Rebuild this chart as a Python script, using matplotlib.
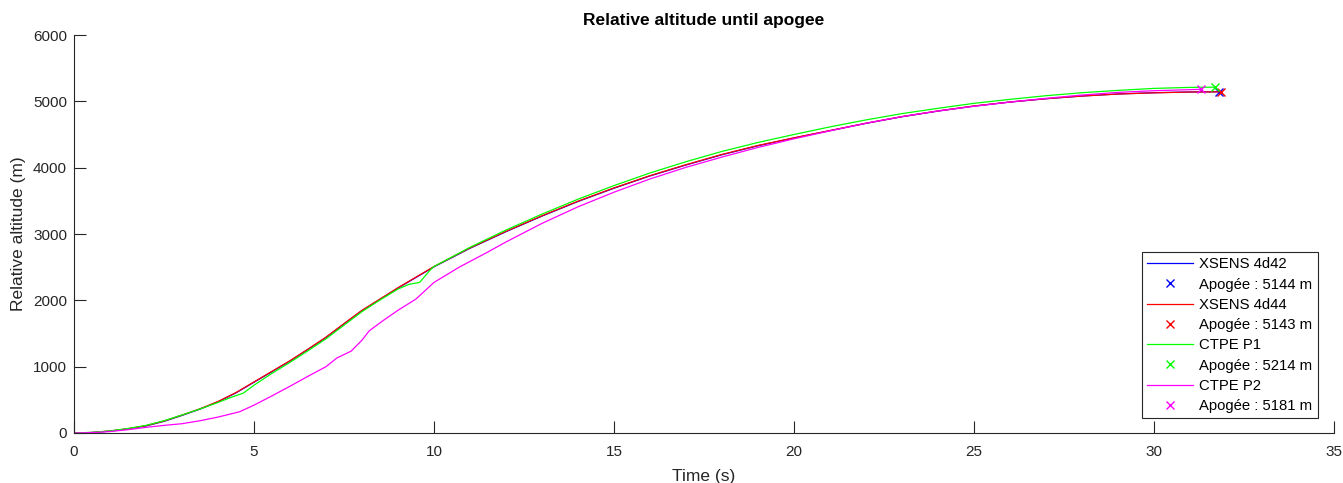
""" Relative altitude until apogee - XSENS vs CTPE sensors """

import numpy as np
import matplotlib.pyplot as plt

plt.rcParams['font.family'] = ['Liberation Sans', 'DejaVu Sans']

# XSENS 4d44 (red) - XSENS 4d42 (blue) almost identical
t_xs = [0, 0.5, 1, 1.5, 2, 2.5, 3, 3.5, 4, 4.5, 5, 5.5, 6, 6.5, 7, 7.5, 8, 8.5, 9, 9.5,
        10, 11, 12, 13, 14, 15, 16, 17, 18, 19, 20, 21, 22, 23, 24, 25, 26, 27, 28, 29,
        30, 31, 31.8]
alt_4d44 = [0, 8, 30, 65, 110, 180, 270, 365, 475, 610, 770, 930, 1090, 1265, 1445, 1650,
            1850, 2020, 2190, 2350, 2510, 2790, 3040, 3275, 3495, 3695, 3880, 4045, 4200,
            4335, 4450, 4560, 4670, 4770, 4855, 4930, 4990, 5040, 5080, 5110, 5128, 5140,
            5143]
alt_4d42 = [0, 7, 28, 62, 106, 176, 265, 360, 470, 605, 765, 925, 1085, 1260, 1440, 1645,
            1845, 2015, 2185, 2345, 2505, 2785, 3035, 3270, 3490, 3690, 3875, 4040, 4195,
            4330, 4448, 4558, 4668, 4768, 4853, 4928, 4989, 5039, 5080, 5111, 5130, 5141,
            5144]

# CTPE P1 (green)
t_p1 = [0, 0.5, 1, 1.5, 2, 2.5, 3, 3.5, 4, 4.4, 4.7, 5, 5.5, 6, 6.5, 7, 7.5, 8, 8.5, 9,
        9.3, 9.6, 9.9, 10, 11, 12, 13, 14, 15, 16, 17, 18, 19, 20, 21, 22, 23, 24, 25, 26,
        27, 28, 29, 30, 31, 31.7]
alt_p1 = [0, 10, 32, 68, 115, 185, 272, 362, 460, 545, 600, 720, 900, 1065, 1240, 1420,
          1625, 1830, 2005, 2170, 2240, 2270, 2460, 2510, 2800, 3060, 3300, 3525, 3730,
          3920, 4090, 4245, 4380, 4500, 4615, 4720, 4815, 4895, 4970, 5030, 5085, 5130,
          5165, 5195, 5210, 5214]

# CTPE P2 (magenta)
t_p2 = [0, 0.5, 1, 1.5, 2, 2.5, 3, 3.5, 4, 4.6, 5, 5.5, 6, 6.5, 7, 7.3, 7.7, 8, 8.2, 8.6,
        9, 9.5, 10, 10.7, 11.5, 12, 13, 14, 15, 16, 17, 18, 19, 20, 21, 22, 23, 24, 25, 26,
        27, 28, 29, 30, 31.3]
alt_p2 = [0, 6, 22, 50, 85, 115, 140, 185, 240, 320, 420, 560, 705, 855, 1000, 1130, 1235,
          1400, 1540, 1700, 1850, 2020, 2270, 2500, 2730, 2880, 3160, 3410, 3630, 3830,
          4005, 4160, 4305, 4435, 4555, 4670, 4770, 4855, 4925, 4990, 5045, 5095, 5135,
          5160, 5181]

# apogees (time, altitude)
apo_4d42 = (31.8, 5144)
apo_4d44 = (31.85, 5143)
apo_p1 = (31.7, 5214)
apo_p2 = (31.3, 5181)

ink = '#262626'
fig = plt.figure(figsize=(13.43, 4.83), dpi=100)
ax = fig.add_axes([74 / 1343, 1 - 433 / 483, 1260 / 1343, 398 / 483])

ax.plot(t_xs, alt_4d42, color='blue', lw=0.9, label='XSENS 4d42')
ax.plot(*apo_4d42, 'x', color='blue', ms=6, mew=1, label='Apogée : 5144 m')
ax.plot(t_xs, alt_4d44, color='red', lw=0.9, label='XSENS 4d44')
ax.plot(*apo_4d44, 'x', color='red', ms=6, mew=1, label='Apogée : 5143 m')
ax.plot(t_p1, alt_p1, color='#00ff00', lw=0.9, label='CTPE P1')
ax.plot(*apo_p1, 'x', color='#00ff00', ms=6, mew=1, label='Apogée : 5214 m')
ax.plot(t_p2, alt_p2, color='magenta', lw=0.9, label='CTPE P2')
ax.plot(*apo_p2, 'x', color='magenta', ms=6, mew=1, label='Apogée : 5181 m')

ax.set_xlim(0, 35)
ax.set_ylim(0, 6000)
ax.set_xticks(np.arange(0, 36, 5))
ax.set_yticks(np.arange(0, 6001, 1000))
ax.spines['top'].set_visible(False)
ax.spines['right'].set_visible(False)
for s in ('left', 'bottom'):
    ax.spines[s].set_color(ink)
    ax.spines[s].set_linewidth(0.8)
ax.tick_params(direction='in', length=8.5, width=0.8, colors=ink, labelsize=11)
ax.tick_params(axis='x', pad=9)
ax.tick_params(axis='y', pad=5)

ax.set_title('Relative altitude until apogee', fontsize=12.5, fontweight='bold', pad=7)
ax.set_xlabel('Time (s)', fontsize=12.5, color=ink, labelpad=7)
ax.set_ylabel('Relative altitude (m)', fontsize=12.5, color=ink, labelpad=5)

leg = ax.legend(loc='lower right', bbox_to_anchor=(0.987, 0.037), borderaxespad=0,
                fontsize=10.7, handlelength=3.1, labelspacing=0.42, borderpad=0.35,
                handletextpad=0.4, fancybox=False, framealpha=1, edgecolor=ink)
leg.get_frame().set_linewidth(0.8)

plt.savefig('out.png', dpi=100)
